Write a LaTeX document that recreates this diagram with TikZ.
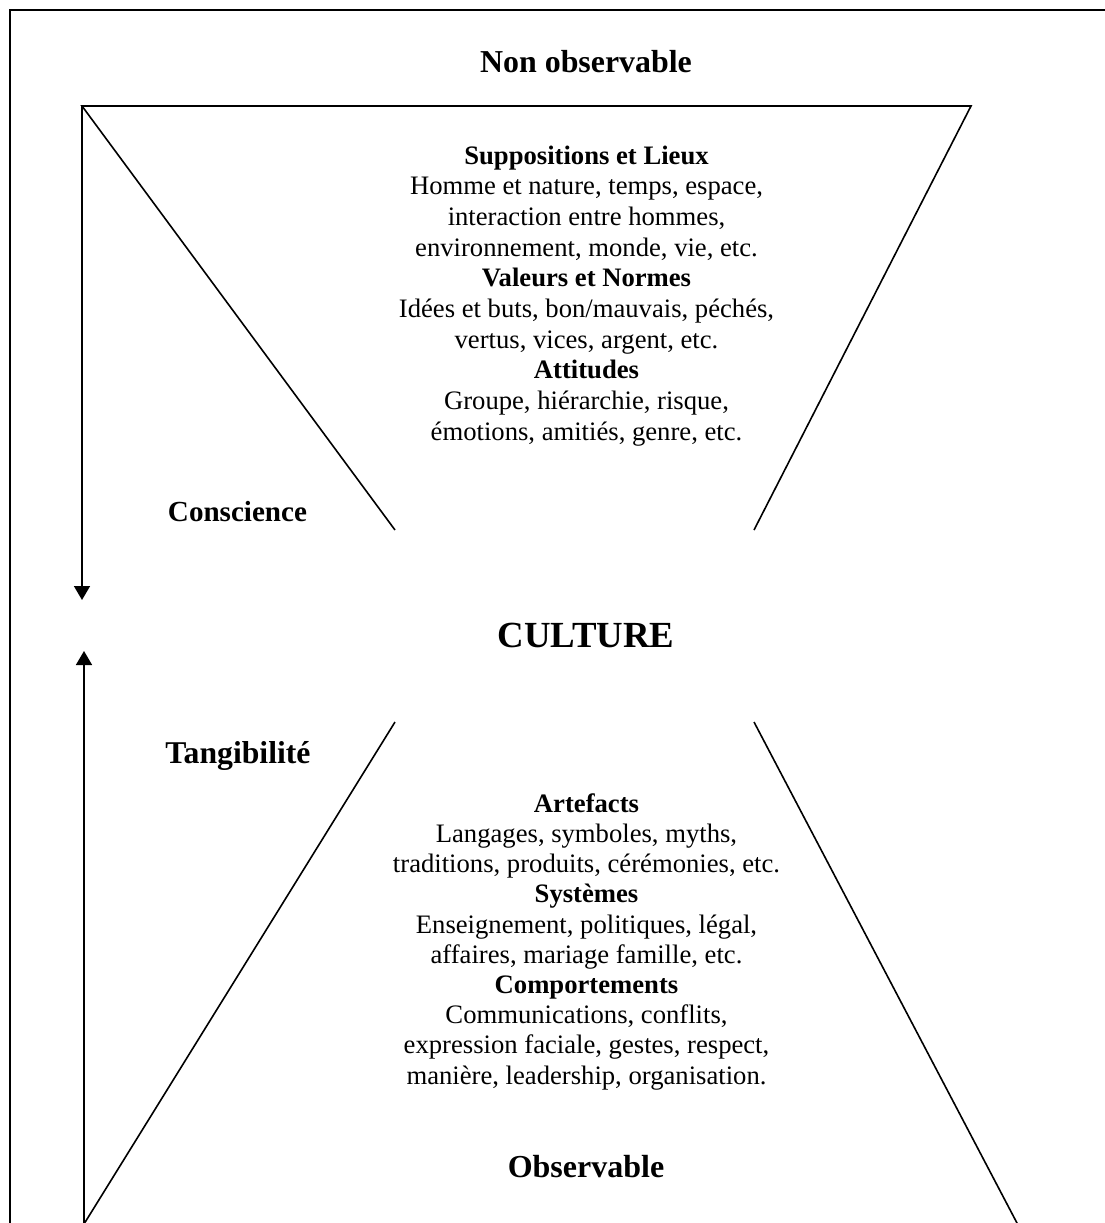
\documentclass[tikz,border=0pt]{standalone}
\usepackage{fontspec}
\setmainfont{Liberation Serif}
\usetikzlibrary{arrows.meta}
\begin{document}
\begin{tikzpicture}[x=1pt,y=-1pt,
  thinline/.style={line width=1.6pt,line cap=butt,line join=miter},
  tip/.style={-{Triangle[length=14pt,width=16pt]}},
  block/.style={align=center,inner sep=0pt,anchor=north},
  label/.style={inner sep=0pt,anchor=base,font=\bfseries}]
\useasboundingbox (0,0) rectangle (1105,1223);
% coordinates
\coordinate (fa) at (10,1300);
\coordinate (fb) at (10,10);
\coordinate (fc) at (1200,10);
\coordinate (tl) at (82,106);
\coordinate (tr) at (971,106);
\coordinate (ctl) at (395,530);
\coordinate (ctr) at (754,530);
\coordinate (cbl) at (395,722);
\coordinate (cbr) at (754,722);
\coordinate (bl) at (84,1224);
\coordinate (br) at (1017.5,1224);
\coordinate (dtip) at (82,600);
\coordinate (utip) at (84,651);
% frame
\draw[thinline] (fa) -- (fb) -- (fc);
% top funnel
\draw[thinline] (ctl) -- (tl) -- (tr) -- (ctr);
% bottom funnel
\draw[thinline] (cbl) -- (bl);
\draw[thinline] (cbr) -- (br);
% arrows
\draw[thinline,tip] (tl) -- (dtip);
\draw[thinline,tip] (bl) -- (utip);
% labels
\node[label,font=\bfseries\fontsize{31.9}{36}\selectfont] (nonobs) at (586,73) {Non observable};
\node[label,font=\bfseries\fontsize{36.8}{42}\selectfont] (culture) at (586,647) {CULTURE};
\node[label,font=\bfseries\fontsize{29.1}{34}\selectfont] (consc) at (237.5,521) {Conscience};
\node[label,font=\bfseries\fontsize{31.7}{36}\selectfont] (tang) at (238,763) {Tangibilité};
\node[label,font=\bfseries\fontsize{32}{36}\selectfont] (obs) at (586,1177) {Observable};
% text blocks
\node[block,font=\fontsize{26.65}{30.67}\selectfont] (topblock) at (586.5,142.53)
  {\strut\textbf{Suppositions et Lieux}\\
   Homme et nature, temps, espace,\\
   interaction entre hommes,\\
   environnement, monde, vie, etc.\\
   \textbf{Valeurs et Normes}\\
   Idées et buts, bon/mauvais, péchés,\\
   vertus, vices, argent, etc.\\
   \textbf{Attitudes}\\
   Groupe, hiérarchie, risque,\\
   émotions, amitiés, genre, etc.};
\node[block,font=\fontsize{26.65}{30.2}\selectfont] (botblock) at (586.5,790.86)
  {\strut\textbf{Artefacts}\\
   Langages, symboles, myths,\\
   traditions, produits, cérémonies, etc.\\
   \textbf{Systèmes}\\
   Enseignement, politiques, légal,\\
   affaires, mariage famille, etc.\\
   \textbf{Comportements}\\
   Communications, conflits,\\
   expression faciale, gestes, respect,\\
   manière, leadership, organisation.};
\end{tikzpicture}
\end{document}
